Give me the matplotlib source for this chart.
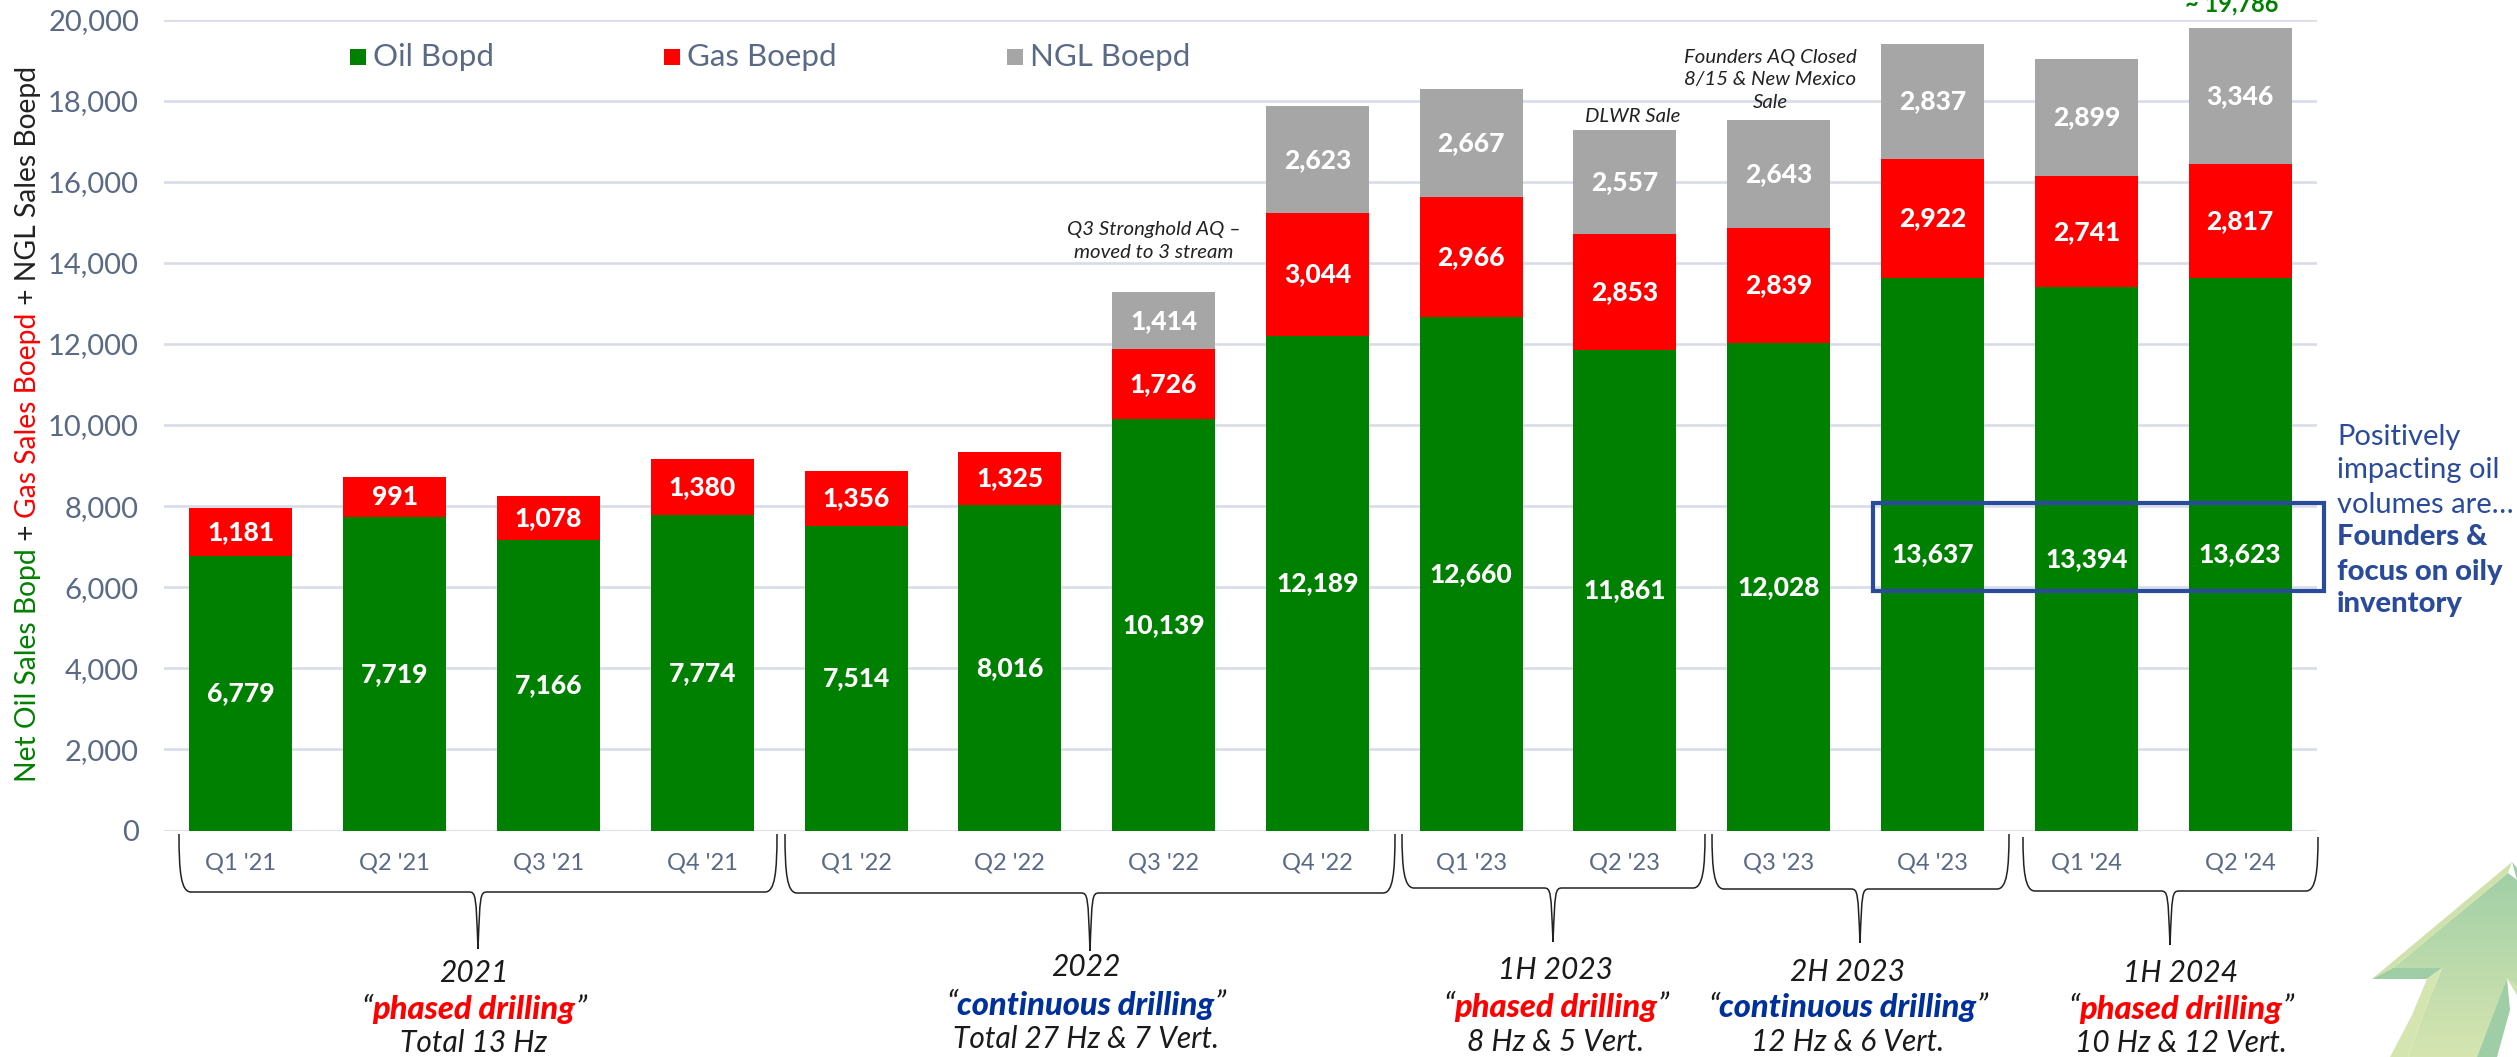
import numpy as np
import matplotlib
matplotlib.use("Agg")
import matplotlib.pyplot as plt
from matplotlib.colors import LinearSegmentedColormap
from matplotlib.path import Path
from matplotlib.patches import PathPatch, Polygon, Rectangle

W, H = 2517, 1057

quarters = ["Q1 '21", "Q2 '21", "Q3 '21", "Q4 '21", "Q1 '22", "Q2 '22", "Q3 '22", "Q4 '22",
            "Q1 '23", "Q2 '23", "Q3 '23", "Q4 '23", "Q1 '24", "Q2 '24"]
oil = [6779, 7719, 7166, 7774, 7514, 8016, 10139, 12189, 12660, 11861, 12028, 13637, 13394, 13623]
gas = [1181, 991, 1078, 1380, 1356, 1325, 1726, 3044, 2966, 2853, 2839, 2922, 2741, 2817]
ngl = [0, 0, 0, 0, 0, 0, 1414, 2623, 2667, 2557, 2643, 2837, 2899, 3346]
y_ticks = [0, 2000, 4000, 6000, 8000, 10000, 12000, 14000, 16000, 18000, 20000]

GREEN, RED, GREY = "#008000", "#ff0000", "#a6a6a6"
SLATE = "#5a6a86"
NAVY = "#2a4a9b"
DARKBLUE = "#00309b"
FONT = "Lato"

plt.rcParams["font.family"] = [FONT, "DejaVu Sans"]

fig = plt.figure(figsize=(W / 100, H / 100), dpi=100, facecolor="white")
ax = fig.add_axes([164 / W, 1 - 830.5 / H, 2153 / W, 811 / H])

# overlay in reference pixels, for annotations
ov = fig.add_axes([0, 0, 1, 1], facecolor="none")
ov.set_xlim(0, W)
ov.set_ylim(H, 0)
ov.axis("off")

x = np.arange(len(quarters))
oil_a, gas_a, ngl_a = np.array(oil), np.array(gas), np.array(ngl)
ax.bar(x, oil_a, 0.67, color=GREEN, zorder=3)
ax.bar(x, gas_a, 0.67, bottom=oil_a, color=RED, zorder=3)
ax.bar(x, ngl_a, 0.67, bottom=oil_a + gas_a, color=GREY, zorder=3)

for i in x:
    ax.text(i, oil_a[i] / 2, f"{oil_a[i]:,}", ha="center", va="center", color="white",
            fontsize=19, fontweight="black", zorder=5)
    ax.text(i, oil_a[i] + gas_a[i] / 2, f"{gas_a[i]:,}", ha="center", va="center", color="white",
            fontsize=19, fontweight="black", zorder=5)
    if ngl_a[i] > 0:
        ax.text(i, oil_a[i] + gas_a[i] + ngl_a[i] / 2, f"{ngl_a[i]:,}", ha="center", va="center",
                color="white", fontsize=19, fontweight="black", zorder=5)

ax.set_xlim(-0.5, 13.5)
ax.set_ylim(0, 20000)
ax.set_xticks(x)
ax.set_xticklabels(quarters, fontsize=17, color=SLATE)
ax.set_yticks(y_ticks)
ax.set_yticklabels([f"{v:,}" for v in y_ticks], fontsize=21, color=SLATE)
ax.tick_params(length=0)
ax.tick_params(axis="x", pad=16)
ax.tick_params(axis="y", pad=18)
ax.grid(axis="y", color="#d9dce8", lw=1.9, zorder=0)
ax.set_axisbelow(True)
for s in ax.spines.values():
    s.set_visible(False)

# legend
for px, name, col in [(350, "Oil Bopd", GREEN), (664, "Gas Boepd", RED), (1007, "NGL Boepd", GREY)]:
    ov.add_patch(Rectangle((px, 49), 16, 16, color=col, lw=0))
    ov.text(px + 23, 57, name, fontsize=22.5, color=SLATE, va="center", ha="left")


def bracket(x0, x1, y0, ym, xt, yt):
    c = 12
    verts = [(x0, y0), (x0, ym - 20), (x0 + 2, ym), (x0 + c, ym), (xt - 9, ym),
             (xt - 2, ym), (xt - 2, ym + 4), (xt, yt),
             (xt + 2, ym + 4), (xt + 2, ym), (xt + 9, ym), (x1 - c, ym),
             (x1 - 2, ym), (x1, ym - 20), (x1, y0)]
    codes = [Path.MOVETO, Path.CURVE4, Path.CURVE4, Path.CURVE4, Path.LINETO,
             Path.CURVE4, Path.CURVE4, Path.CURVE4,
             Path.CURVE4, Path.CURVE4, Path.CURVE4, Path.LINETO,
             Path.CURVE4, Path.CURVE4, Path.CURVE4]
    ov.add_patch(PathPatch(Path(verts, codes), fc="none", ec="#222222", lw=1.1))


bracket(179, 777, 834, 892, 478, 949)
bracket(785, 1395, 834, 893, 1090, 951)
bracket(1402, 1705, 834, 888, 1553, 942)
bracket(1712, 2009, 834, 889, 1860, 943)
bracket(2023, 2318, 837, 891, 2170, 945)


def rich_line(cx, y, parts, size):
    # parts = (text, colour, weight); laid out one after the other and centred on cx
    r = fig.canvas.get_renderer()
    made = []
    total = 0
    for txt, col, weight in parts:
        t = ov.text(0, 0, txt, fontsize=size, color=col, style="italic",
                    fontweight=weight, va="center", ha="left")
        w = t.get_window_extent(r).width
        made.append((t, w))
        total += w
    pos = cx - total / 2
    for t, w in made:
        t.set_position((pos, y))
        pos += w


groups = [
    (474, (973, 1010, 1043), "2021", "phased drilling", RED, "Total 13 Hz"),
    (1086, (967, 1005, 1039), "2022", "continuous drilling", DARKBLUE, "Total 27 Hz & 7 Vert."),
    (1556, (970, 1007, 1042), "1H 2023", "phased drilling", RED, "8 Hz & 5 Vert."),
    (1848, (972, 1008, 1042), "2H 2023", "continuous drilling", DARKBLUE, "12 Hz & 6 Vert."),
    (2181, (973, 1009, 1043), "1H 2024", "phased drilling", RED, "10 Hz & 12 Vert."),
]
for cx, ys, yr, word, col, note in groups:
    ov.text(cx, ys[0], yr, fontsize=21.5, style="italic", color="#1a1a1a", ha="center", va="center")
    rich_line(cx, ys[1], [("\u201c", "#1a1a1a", "normal"), (word, col, "black"), ("\u201d", "#1a1a1a", "normal")], 23.5)
    ov.text(cx, ys[2], note, fontsize=21.5, style="italic", color="#1a1a1a", ha="center", va="center")

# notes above the bars
for cx, ys, lines in [(1154, (230, 253), ["Q3 Stronghold AQ \u2013", "moved to 3 stream"]),
                      (1633, (116,), ["DLWR Sale"]),
                      (1770, (58, 80, 103), ["Founders AQ Closed", "8/15 & New Mexico", "Sale"])]:
    for yy, ln in zip(ys, lines):
        ov.text(cx, yy, ln, fontsize=14.7, style="italic", color="#222222", ha="center", va="center")

ov.text(2232, 4, "~ 19,786", fontsize=17, fontweight="bold", color=GREEN, ha="center", va="center")

# highlight box and side note
ov.add_patch(Rectangle((1873, 503), 451, 88, fc="none", ec=NAVY, lw=3))
for yy, ln, bold in [(437, "Positively", False), (470, "impacting oil", False), (505, "volumes are\u2026", False),
                     (537, "Founders &", True), (572, "focus on oily", True), (604, "inventory", True)]:
    ov.text(2337, yy, ln, fontsize=21, color=NAVY, fontweight="black" if bold else "normal",
            ha="left", va="center")

# rotated axis title, pieces stacked bottom to top
r = fig.canvas.get_renderer()
yy = 782
for txt, col in [("Net Oil Sales Bopd", GREEN), (" + ", "#222222"), ("Gas Sales Boepd", RED),
                 (" + NGL Sales Boepd", "#222222")]:
    t = ov.text(28, yy, txt, fontsize=20.3, color=col, rotation=90, ha="center", va="bottom")
    yy -= t.get_window_extent(r).height

# arrow bottom right
LIGHT, DEEP = "#d0e2ac", "#9fcea6"
body = Polygon([(2508, 873), (2393, 968), (2442, 968), (2425, 1010), (2408, 1057), (2477, 1057),
                (2495, 1010), (2507, 978), (2517, 995), (2517, 880)], closed=True,
               transform=ov.transData, fc="none", ec="none")
ov.add_patch(body)
grad = ov.imshow(np.linspace(0, 1, 64).reshape(-1, 1), extent=(2372, 2517, 1057, 862), aspect="auto",
                 cmap=LinearSegmentedColormap.from_list("arrow", [DEEP, "#d5e5b0"]))
grad.set_clip_path(body)
ov.add_patch(Polygon([(2512, 862), (2372, 979), (2393, 968), (2508, 873)], closed=True, fc=LIGHT, ec="none"))
ov.add_patch(Polygon([(2372, 979), (2427, 979), (2442, 968), (2393, 968)], closed=True, fc=DEEP, ec="none"))
ov.add_patch(Polygon([(2442, 968), (2427, 979), (2412, 1015), (2390, 1057), (2408, 1057), (2425, 1010)],
                     closed=True, fc="#d5e5b0", ec="none"))
ov.add_patch(Polygon([(2507, 978), (2477, 1057), (2497, 1057), (2510, 1010)], closed=True, fc=DEEP, ec="none"))
ov.add_patch(Polygon([(2512, 862), (2517, 880), (2517, 868)], closed=True, fc=DEEP, ec="none"))
ov.add_patch(Polygon([(2507, 978), (2517, 985), (2517, 995)], closed=True, fc=LIGHT, ec="none"))
ov.set_xlim(0, W)
ov.set_ylim(H, 0)

fig.savefig("out.png", dpi=100)
